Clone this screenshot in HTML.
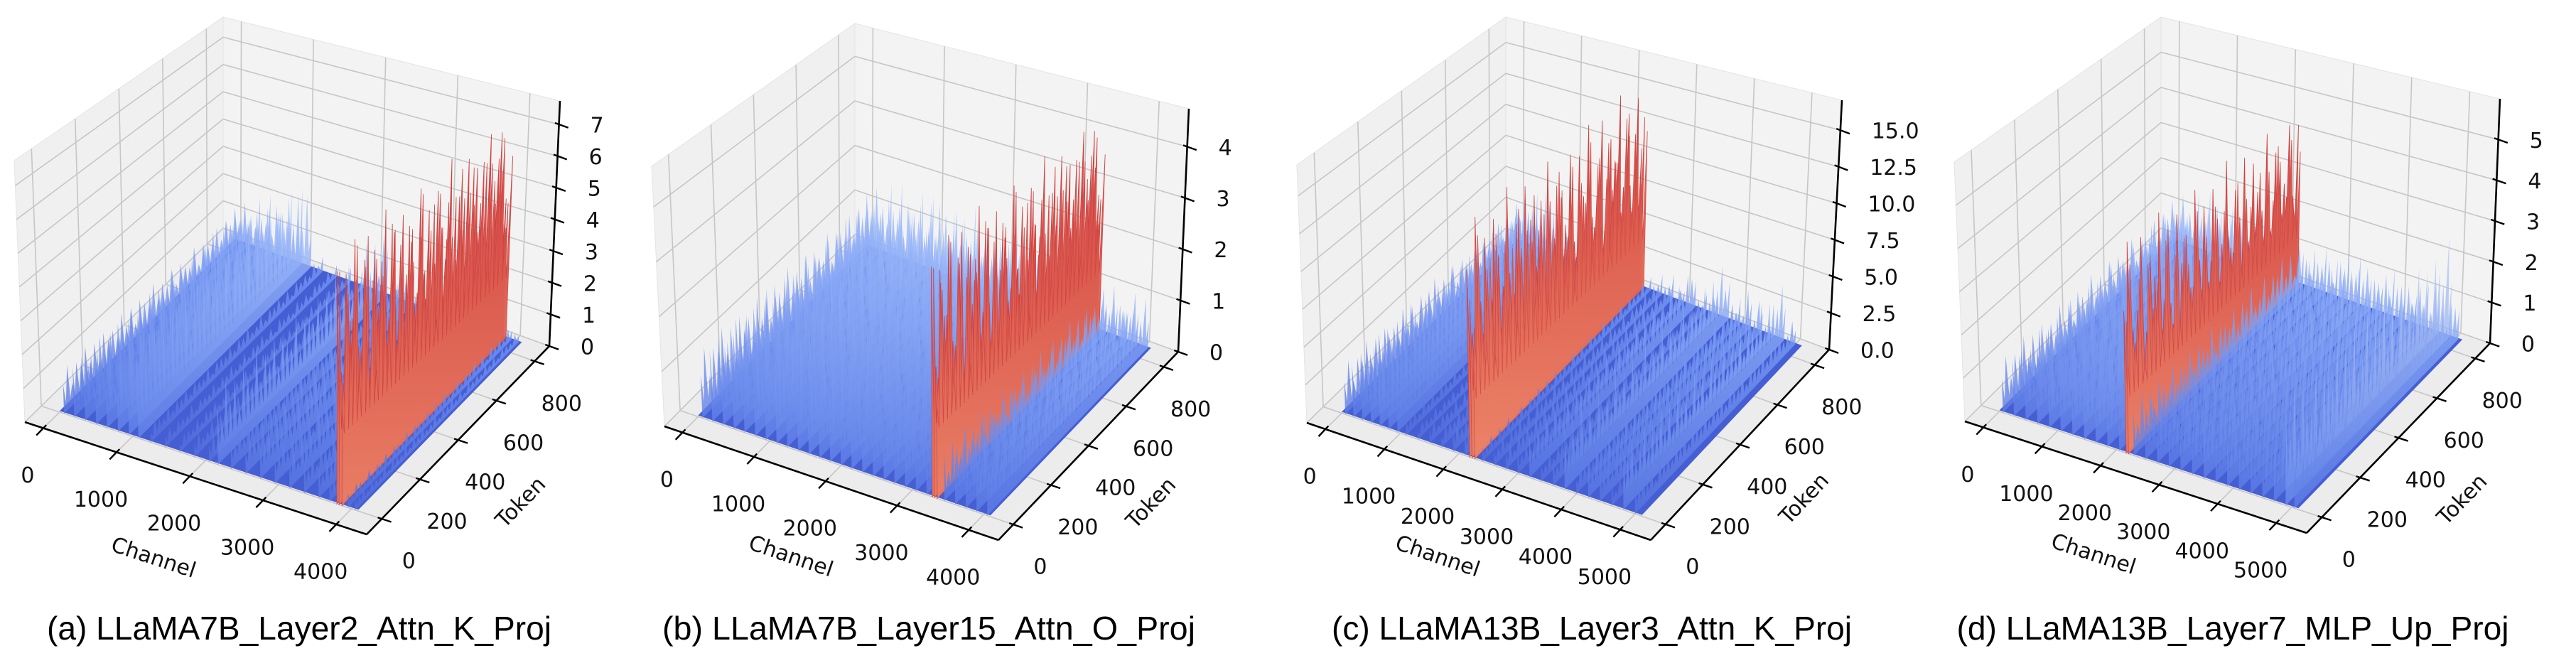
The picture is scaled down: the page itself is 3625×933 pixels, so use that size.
<!DOCTYPE html>
<html>
<head>
<meta charset="utf-8">
<style>
  html,body{margin:0;padding:0;background:#fff;}
  svg{display:block;}
  text{font-family:"DejaVu Sans","Liberation Sans",sans-serif;fill:#111;}
  .cap{font-family:"Liberation Sans",sans-serif;fill:#000;}
</style>
</head>
<body>
<svg id="fig" xmlns="http://www.w3.org/2000/svg" width="3625" height="933" viewBox="0 0 3625 933">
  <rect x="0" y="0" width="3625" height="933" fill="#ffffff"/>
  <defs id="defs"></defs>
</svg>
<script>
// ---------- data (approximate) ----------
const panelTitles = ["(a) LLaMA7B_Layer2_Attn_K_Proj","(b) LLaMA7B_Layer15_Attn_O_Proj","(c) LLaMA13B_Layer3_Attn_K_Proj","(d) LLaMA13B_Layer7_MLP_Up_Proj"];
const channelTicksA = [0,1000,2000,3000,4000];
const channelTicksC = [0,1000,2000,3000,4000,5000];
const tokenTicks = [0,200,400,600,800];
const zTicksA = [0,1,2,3,4,5,6,7];
const zTicksB = [0,1,2,3,4];
const zTicksC = [0,2.5,5,7.5,10,12.5,15];
const zTickLabelsC = ["0.0","2.5","5.0","7.5","10.0","12.5","15.0"];
const zTicksD = [0,1,2,3,4,5];
const channelCountA = 4096;
const channelCountC = 5120;
const tokenCount = 850;

// outlier/ridge bands: channel index and peak magnitude
const bandChA = [60,200,350,500,650,800,950,1080,1250,1450,1650,1850,2050,2170,2350,2550,2750,2950,3150,3350,3550,3700,3800,3830,3870,3950,4050];
const bandPeakA = [1.4,1.7,1.9,2.1,2.3,2.6,2.8,3.0,0.6,0.5,0.5,0.6,0.7,2.4,1.1,1.3,1.5,1.2,1.4,1.0,1.1,0.9,7.2,6.9,6.6,0.5,0.4];
const bandChB = [60,200,350,500,650,800,950,1100,1250,1400,1550,1700,1850,2000,2150,2300,2450,2600,2750,2900,3050,3200,3280,3310,3350,3450,3600,3750,3900,4050];
const bandPeakB = [1.3,1.5,1.6,1.7,1.6,1.8,1.7,1.8,1.6,1.7,1.8,1.6,1.7,1.5,1.6,1.5,1.4,1.5,1.4,1.3,1.2,1.1,4.4,4.2,4.0,1.0,1.1,1.0,1.2,1.1];
const bandChC = [60,200,350,500,650,800,950,1100,1300,1500,1700,1900,2100,2180,2220,2270,2400,2600,2800,3000,3200,3400,3600,3800,4000,4200,4400,4600,4800,5000];
const bandPeakC = [3.5,4.0,4.5,4.8,5.0,4.5,4.0,1.2,1.0,1.3,1.5,1.8,2.0,15.5,14.0,12.5,1.2,1.5,1.8,1.6,3.2,1.5,2.0,4.5,2.0,3.0,2.5,1.5,4.5,2.0];
const bandChD = [60,250,450,650,850,1050,1250,1450,1650,1850,2050,2170,2210,2300,2500,2700,2900,3100,3300,3500,3700,3900,4100,4300,4500,4700,4900,5050];
const bandPeakD = [1.3,1.5,1.6,1.7,1.8,1.7,1.8,1.9,1.8,1.7,1.6,4.8,4.2,1.3,1.2,1.3,1.2,1.4,1.3,1.5,1.2,1.4,1.3,1.2,1.3,1.4,2.6,1.3];
// relative spike heights along the token axis
const tokenNoise = [0.62,0.95,0.48,0.83,0.71,1.0,0.55,0.88,0.4,0.92,0.66,0.78,0.5,0.97,0.6,0.85,0.45,0.9,0.73,0.58,0.99,0.52,0.8,0.64,0.93,0.47,0.86,0.69,0.57,0.96,0.42,0.82,0.75,0.61,0.91,0.5,0.87,0.67,0.98,0.54];

// ---------- layout ----------
const panels = [
 {ox:0, A:[35,594],Fr:[516,752],R:[773,487],B:[314,321],At:[20,226],Ft:[518,357],Rt:[788,142],Bt:[314,24],
  T:4000,N:channelCountA,chTicks:channelTicksA,zTicks:zTicksA,zLabels:null,zHi:7.74,ch:bandChA,pk:bandPeakA,
  chLab:[216,785],tokLab:[733,707],cap:421,capW:710},
 {ox:900, A:[35,600],Fr:[505,760],R:[758,495],B:[303,330],At:[17,234],Ft:[507,365],Rt:[773,153],Bt:[303,33],
  T:4000,N:channelCountA,chTicks:channelTicksA,zTicks:zTicksB,zLabels:null,zHi:4.74,ch:bandChB,pk:bandPeakB,
  chLab:[213,783],tokLab:[720,708],cap:407,capW:750},
 {ox:1810, A:[29,595],Fr:[513,760],R:[764,492],B:[309,321],At:[15,232],Ft:[515,365],Rt:[782,141],Bt:[309,24],
  T:5000,N:channelCountC,chTicks:channelTicksC,zTicks:zTicksC,zLabels:zTickLabelsC,zHi:17.05,ch:bandChC,pk:bandPeakC,
  chLab:[213,783],tokLab:[729,702],cap:430,capW:732},
 {ox:2700, A:[65,593],Fr:[546,750],R:[804,483],B:[341,321],At:[50,228],Ft:[548,355],Rt:[818,139],Bt:[341,24],
  T:5000,N:channelCountC,chTicks:channelTicksC,zTicks:zTicksD,zLabels:null,zHi:6.0,ch:bandChD,pk:bandPeakD,
  chLab:[246,780],tokLab:[765,703],cap:442,capW:777}
];

const NS="http://www.w3.org/2000/svg";
const svg=document.getElementById('fig');
const defs=document.getElementById('defs');
function mk(tag,attrs,parent){const e=document.createElementNS(NS,tag);for(const k in attrs)e.setAttribute(k,attrs[k]);parent.appendChild(e);return e;}

const stops=[[0,59,76,192],[0.125,92,123,229],[0.25,124,159,249],[0.375,170,199,253],[0.5,221,221,221],[0.625,245,196,173],[0.75,244,154,123],[0.875,222,96,77],[1,180,4,38]];
function cm(t){t=Math.max(0,Math.min(1,t));for(let i=1;i<stops.length;i++){if(t<=stops[i][0]){const a=stops[i-1],b=stops[i];const f=(t-a[0])/(b[0]-a[0]);return `rgb(${Math.round(a[1]+f*(b[1]-a[1]))},${Math.round(a[2]+f*(b[2]-a[2]))},${Math.round(a[3]+f*(b[3]-a[3]))})`;}}return 'rgb(180,4,38)';}
function bil(p00,p10,p11,p01,u,v){return [(1-u)*(1-v)*p00[0]+u*(1-v)*p10[0]+u*v*p11[0]+(1-u)*v*p01[0],(1-u)*(1-v)*p00[1]+u*(1-v)*p10[1]+u*v*p11[1]+(1-u)*v*p01[1]];}
function P(g,u,v,w){const f=bil(g.A,g.Fr,g.R,g.B,u,v);const t=bil(g.At,g.Ft,g.Rt,g.Bt,u,v);return [f[0]+w*(t[0]-f[0]),f[1]+w*(t[1]-f[1])];}
function xU(g,ch){return (ch+0.063*g.T)/(g.T/0.857);}
function yV(tok){return (tok+79)/956;}
function zW(g,z){return z/g.zHi;}
function pts(a){return a.map(p=>p[0].toFixed(1)+','+p[1].toFixed(1)).join(' ');}
function dir(p,q){const dx=q[0]-p[0],dy=q[1]-p[1];const l=Math.hypot(dx,dy);return [dx/l,dy/l];}

panels.forEach((g,pi)=>{
  const grp=mk('g',{transform:`translate(${g.ox},0)`},svg);
  
  

  const left=mk('polygon',{points:pts([g.A,g.B,g.Bt,g.At]),fill:'#f0f0f0',stroke:'#e4e4e4','stroke-width':1},grp);
  
  
  const back=mk('polygon',{points:pts([g.B,g.R,g.Rt,g.Bt]),fill:'#f3f3f3',stroke:'#e4e4e4','stroke-width':1},grp);
  
  
  const floor=mk('polygon',{points:pts([g.A,g.Fr,g.R,g.B]),fill:'#ececec'},grp);
  
  

  const gs={stroke:'#c6c6c6','stroke-width':1.6,fill:'none'};
  g.chTicks.forEach(c=>{const u=xU(g,c);
    const l=mk('polyline',Object.assign({points:pts([P(g,u,0,0),P(g,u,1,0),P(g,u,1,1)])},gs),grp);
    
    });
  tokenTicks.forEach(t=>{const v=yV(t);
    const l=mk('polyline',Object.assign({points:pts([P(g,1,v,0),P(g,0,v,0),P(g,0,v,1)])},gs),grp);
    
    });
  g.zTicks.forEach(z=>{const w=zW(g,z);
    const l=mk('polyline',Object.assign({points:pts([P(g,0,0,w),P(g,0,1,w),P(g,1,1,w)])},gs),grp);
    
    });

  const u0=xU(g,0),u1=xU(g,g.N),v0=yV(0),v1=yV(tokenCount);
  const base=mk('polygon',{points:pts([P(g,u0,v0,0.005),P(g,u1,v0,0.005),P(g,u1,v1,0.005),P(g,u0,v1,0.005)]),fill:'rgb(70,94,212)'},grp);
  
  

  const pmax=Math.max(...g.pk);
  const K=tokenNoise.length;
  g.ch.forEach((c,i)=>{
    const u=xU(g,c), peak=g.pk[i], frac=peak/pmax;
    const hot=frac>0.7;
    const gid=`grad${pi}_${i}`;
    const lg=mk('linearGradient',{id:gid,x1:0,y1:0,x2:0,y2:1},defs);
    const top=hot?cm(0.8+0.12*frac):cm(0.2+0.4*frac);
    const bot=hot?cm(0.72+0.1*frac):cm(0.08+0.2*frac);
    mk('stop',{offset:'0','stop-color':top},lg);
    mk('stop',{offset:'1','stop-color':bot},lg);
    const arr=[P(g,u,yV(0),0)];
    for(let k=0;k<K;k++){
      const tok=k*tokenCount/(K-1);
      const z=peak*tokenNoise[(k+i*7)%K];
      arr.push(P(g,u,yV(tok),zW(g,z)));
      if(k<K-1){const tm=(k+0.5)*tokenCount/(K-1);arr.push(P(g,u,yV(tm),zW(g,peak*(hot?0.3:0.2))));}
    }
    arr.push(P(g,u,yV(tokenCount),0));
    const b=mk('polygon',{points:pts(arr),fill:`url(#${gid})`,stroke:hot?top:'none','stroke-width':0.8,'fill-opacity':hot?0.95:0.78},grp);
    
    
  });

  const ax={stroke:'#000','stroke-width':2.6,fill:'none'};
  const xa=mk('line',Object.assign({x1:g.A[0],y1:g.A[1],x2:g.Fr[0],y2:g.Fr[1]},ax),grp);
  
  
  const ya=mk('line',Object.assign({x1:g.Fr[0],y1:g.Fr[1],x2:g.R[0],y2:g.R[1]},ax),grp);
  
  
  const za=mk('line',Object.assign({x1:g.R[0],y1:g.R[1],x2:g.Rt[0],y2:g.Rt[1]},ax),grp);
  
  

  const dTok=dir(g.Fr,g.R), dCh=dir(g.A,g.Fr), dZ=dir(g.B,g.R);
  g.chTicks.forEach(c=>{const p=P(g,xU(g,c),0,0);
    const t=mk('line',{x1:p[0]+dTok[0]*6,y1:p[1]+dTok[1]*6,x2:p[0]-dTok[0]*14,y2:p[1]-dTok[1]*14,stroke:'#000','stroke-width':2.4},grp);
    
    
    const tx=mk('text',{x:p[0]-22,y:p[1]+67,'font-size':30,'text-anchor':'middle','dominant-baseline':'central'},grp);
    tx.textContent=String(c);
    
    });
  tokenTicks.forEach(tk=>{const p=P(g,1,yV(tk),0);
    const t=mk('line',{x1:p[0]-dCh[0]*6,y1:p[1]-dCh[1]*6,x2:p[0]+dCh[0]*14,y2:p[1]+dCh[1]*14,stroke:'#000','stroke-width':2.4},grp);
    
    
    const tx=mk('text',{x:p[0]+38,y:p[1]+60,'font-size':30,'text-anchor':'middle','dominant-baseline':'central'},grp);
    tx.textContent=String(tk);
    
    });
  g.zTicks.forEach((z,j)=>{const p=P(g,1,1,zW(g,z));
    const t=mk('line',{x1:p[0]-dZ[0]*6,y1:p[1]-dZ[1]*6,x2:p[0]+dZ[0]*14,y2:p[1]+dZ[1]*14,stroke:'#000','stroke-width':2.4},grp);
    
    
    const tx=mk('text',{x:p[0]+44,y:p[1]+2,'font-size':30,'text-anchor':'start','dominant-baseline':'central'},grp);
    tx.textContent=g.zLabels?g.zLabels[j]:String(z);
    
    });

  const angCh=Math.atan2(g.Fr[1]-g.A[1],g.Fr[0]-g.A[0])*180/Math.PI;
  const cl=mk('text',{x:g.chLab[0],y:g.chLab[1],'font-size':30,'text-anchor':'middle','dominant-baseline':'central',transform:`rotate(${angCh.toFixed(1)} ${g.chLab[0]} ${g.chLab[1]})`},grp);
  cl.textContent='Channel';
  
  
  const angTok=Math.atan2(g.R[1]-g.Fr[1],g.R[0]-g.Fr[0])*180/Math.PI;
  const tl=mk('text',{x:g.tokLab[0],y:g.tokLab[1],'font-size':30,'text-anchor':'middle','dominant-baseline':'central',transform:`rotate(${angTok.toFixed(1)} ${g.tokLab[0]} ${g.tokLab[1]})`},grp);
  tl.textContent='Token';
  
  

  const cap=mk('text',{x:g.cap,y:900,'font-size':46,'text-anchor':'middle',textLength:g.capW,lengthAdjust:'spacingAndGlyphs',class:'cap'},grp);
  cap.textContent=panelTitles[pi];
  
  
});
</script>
</body>
</html>
